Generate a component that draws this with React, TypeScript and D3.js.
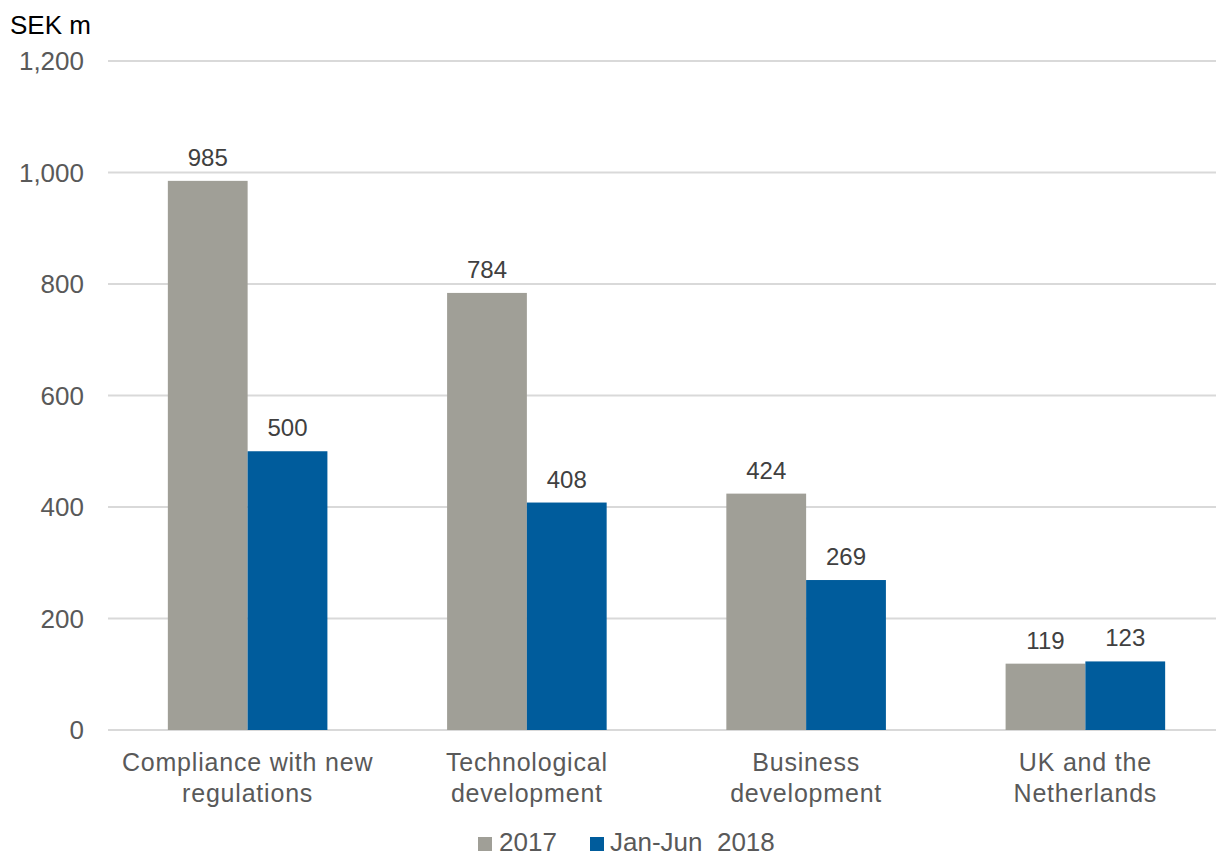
import React from "react";
import * as d3 from "d3";

const categories: string[][] = [
  ["Compliance with new", "regulations"],
  ["Technological", "development"],
  ["Business", "development"],
  ["UK and the", "Netherlands"],
];
const series2017: number[] = [985, 784, 424, 119];
const series2018: number[] = [500, 408, 269, 123];
const seriesNames: string[] = ["2017", "Jan-Jun  2018"];
const yTicks: number[] = [0, 200, 400, 600, 800, 1000, 1200];

const W = 1216;
const H = 858;
const FONT = "'Liberation Sans', Arial, sans-serif";
const GRAY = "#A09F97";
const BLUE = "#005C9C";

export default function App() {
  const y = d3.scaleLinear().domain([0, 1200]).range([730, 61]);
  const x0 = d3
    .scaleBand<number>()
    .domain(categories.map((_, i) => i))
    .range([108, 1225])
    .paddingInner(0)
    .paddingOuter(0);
  const bw = x0.bandwidth();
  const x1 = d3
    .scaleBand<number>()
    .domain([0, 1])
    .range([bw * 0.2143, bw * 0.7857]);
  const fmt = d3.format(",");
  const series = [series2017, series2018];
  const colors = [GRAY, BLUE];

  return (
    <svg
      width={W}
      height={H}
      style={{ position: "absolute", left: 0, top: 0, background: "#fff" }}
      fontFamily={FONT}
    >
      <rect x={0} y={0} width={W} height={H} fill="#fff" />
      {yTicks.map((t) => (
        <g key={t}>
          <line x1={108} x2={W} y1={y(t)} y2={y(t)} stroke="#D9D9D9" strokeWidth={2} />
          <text
            x={84}
            y={y(t)}
            dy="0.35em"
            textAnchor="end"
            fontSize={26}
            fill="#595959"
          >
            {fmt(t)}
          </text>
        </g>
      ))}
      <text x={10} y={34} fontSize={26} fill="#000">
        SEK m
      </text>
      {series.map((vals, s) =>
        vals.map((v, i) => {
          const bx = (x0(i) as number) + (x1(s) as number);
          return (
            <g key={`${s}-${i}`}>
              <rect
                x={bx}
                y={y(v)}
                width={x1.bandwidth()}
                height={y(0) - y(v)}
                fill={colors[s]}
              />
              <text
                x={bx + x1.bandwidth() / 2}
                y={y(v) - 15}
                textAnchor="middle"
                fontSize={24}
                fill="#404040"
              >
                {fmt(v)}
              </text>
            </g>
          );
        })
      )}
      {categories.map((lines, i) => (
        <text
          key={i}
          x={(x0(i) as number) + bw / 2}
          y={771}
          textAnchor="middle"
          fontSize={25}
          fill="#595959"
          letterSpacing={0.8}
        >
          {lines.map((l, j) => (
            <tspan key={j} x={(x0(i) as number) + bw / 2} dy={j === 0 ? 0 : 31}>
              {l}
            </tspan>
          ))}
        </text>
      ))}
      <g>
        <rect x={478} y={837} width={14} height={14} fill={GRAY} />
        <text x={499} y={851} fontSize={26} fill="#595959">
          {seriesNames[0]}
        </text>
        <rect x={590} y={837} width={14} height={14} fill={BLUE} />
        <text x={610} y={851} fontSize={26} fill="#595959" style={{ whiteSpace: "pre" }}>
          {seriesNames[1]}
        </text>
      </g>
    </svg>
  );
}
